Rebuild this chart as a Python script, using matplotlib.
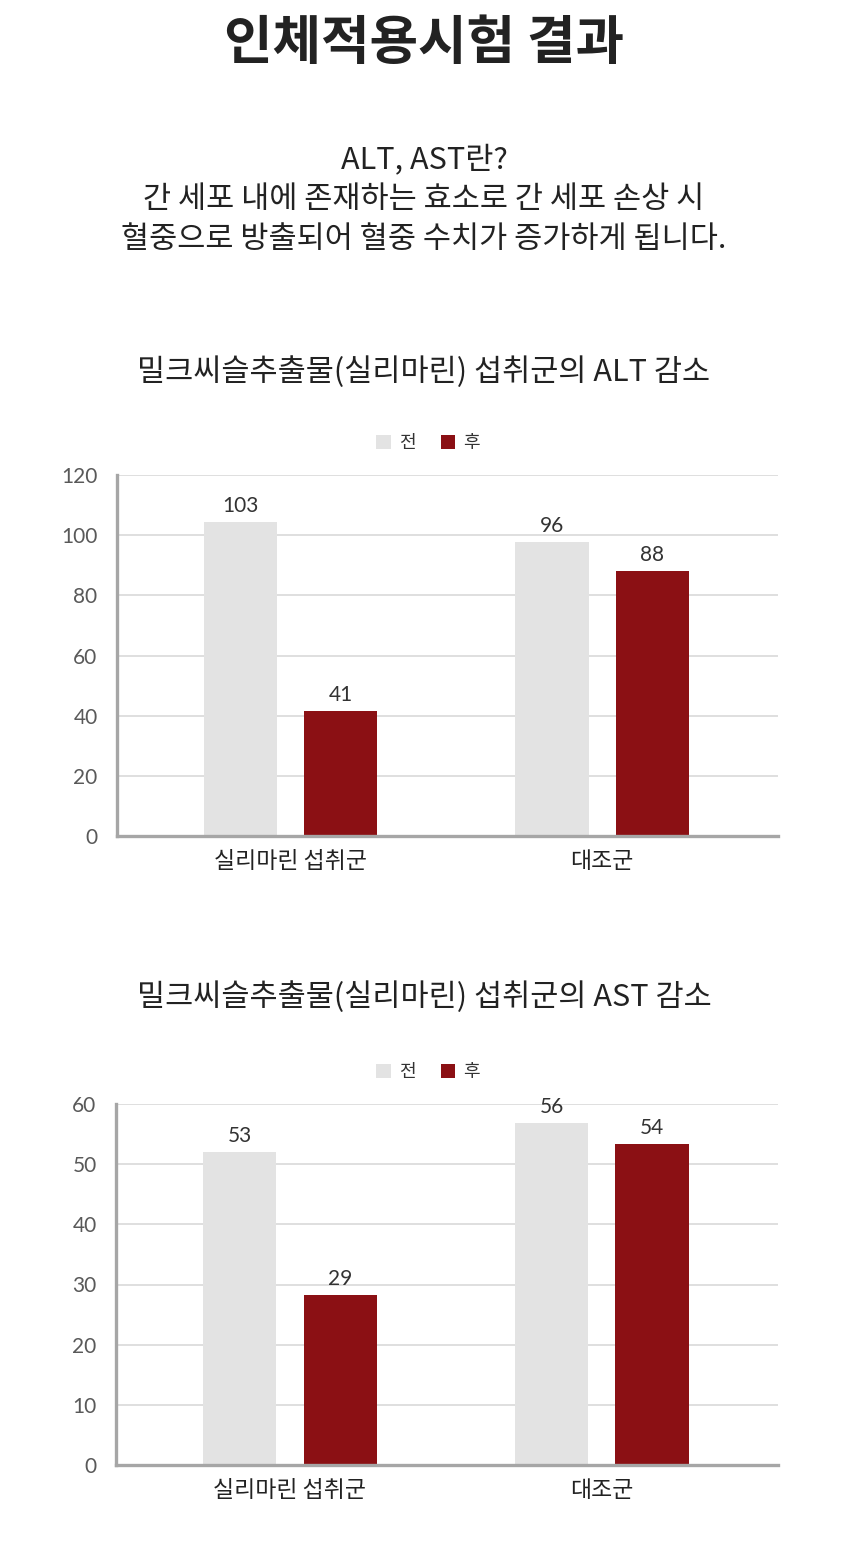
import matplotlib.pyplot as plt
import numpy as np
from matplotlib.patches import Patch

plt.rcParams['font.family'] = ['Noto Sans CJK KR', 'DejaVu Sans']

W, H = 848, 1563

# --- data ---
groups = ["실리마린 섭취군", "대조군"]
series = ["전", "후"]
alt_before = [104.4, 97.7]
alt_after = [41.6, 88.1]
alt_labels_before = ["103", "96"]
alt_labels_after = ["41", "88"]
ast_before = [52.0, 56.8]
ast_after = [28.3, 53.3]
ast_labels_before = ["53", "56"]
ast_labels_after = ["29", "54"]

GREY = '#e3e3e3'
RED = '#8b1014'
DARK = '#222222'

fig = plt.figure(figsize=(W / 100, H / 100), dpi=100)
fig.patch.set_facecolor('white')


def fy(py):
    return 1 - py / H


# headings
fig.text(0.5, fy(43), "인체적용시험 결과", ha='center', va='center',
         fontsize=38, fontweight='black', color=DARK)
fig.text(0.5, fy(160), "ALT, AST란?", ha='center', va='center',
         fontsize=22, fontweight='medium', color=DARK)
fig.text(0.5, fy(200), "간 세포 내에 존재하는 효소로 간 세포 손상 시", ha='center',
         va='center', fontsize=22, fontweight='medium', color=DARK)
fig.text(0.5, fy(240), "혈중으로 방출되어 혈중 수치가 증가하게 됩니다.", ha='center',
         va='center', fontsize=22, fontweight='medium', color=DARK)


def draw_chart(title, title_y, legend_y, box, before, after, lab_b, lab_a, ymax, step):
    fig.text(0.5, fy(title_y), title, ha='center', va='center',
             fontsize=22, fontweight='medium', color=DARK)
    left, top, right, bottom = box
    ax = fig.add_axes([left / W, fy(bottom), (right - left) / W, (bottom - top) / H])
    x = np.arange(len(groups))
    bw = 0.235
    off = 0.161
    b1 = ax.bar(x - off, before, bw, color=GREY, zorder=3)
    b2 = ax.bar(x + off, after, bw, color=RED, zorder=3)
    for bars, labs in ((b1, lab_b), (b2, lab_a)):
        for rect, lab in zip(bars, labs):
            ax.annotate(lab, (rect.get_x() + rect.get_width() / 2, rect.get_height()),
                        xytext=(0, 6), textcoords='offset pixels', ha='center',
                        va='bottom', fontsize=15, color='#333333', family='Lato')
    ax.set_xlim(-0.558, 1.565)
    ax.set_ylim(0, ymax)
    ax.set_yticks(np.arange(0, ymax + 1, step))
    ax.set_xticks(x)
    ax.set_xticklabels(groups, fontsize=16.5, fontweight='medium', color=DARK)
    for t in ax.get_yticklabels():
        t.set_family('Lato')
        t.set_fontsize(15)
        t.set_color('#595959')
    ax.tick_params(axis='both', length=0)
    ax.tick_params(axis='y', pad=14)
    ax.tick_params(axis='x', pad=10)
    ax.grid(axis='y', color='#d9d9d9', linewidth=1.2, zorder=0)
    for s in ('top', 'right'):
        ax.spines[s].set_visible(False)
    for s in ('left', 'bottom'):
        ax.spines[s].set_color('#a6a6a6')
        ax.spines[s].set_linewidth(2.4)
        ax.spines[s].set_zorder(4)
    handles = [Patch(facecolor=GREY, edgecolor='none'), Patch(facecolor=RED, edgecolor='none')]
    fig.legend(handles, series, loc='center', ncol=2,
               bbox_to_anchor=(428 / W, fy(legend_y)), frameon=False,
               fontsize=13, handlelength=0.8, handleheight=0.8,
               handletextpad=0.45, columnspacing=1.4,
               labelcolor='#333333')
    return ax


draw_chart("밀크씨슬추출물(실리마린) 섭취군의 ALT 감소", 372, 443,
           (117, 475, 778, 836), alt_before, alt_after,
           alt_labels_before, alt_labels_after, 120, 20)
draw_chart("밀크씨슬추출물(실리마린) 섭취군의 AST 감소", 997, 1072,
           (116, 1104, 778, 1465), ast_before, ast_after,
           ast_labels_before, ast_labels_after, 60, 10)

fig.savefig("out.png", dpi=100, facecolor='white')
